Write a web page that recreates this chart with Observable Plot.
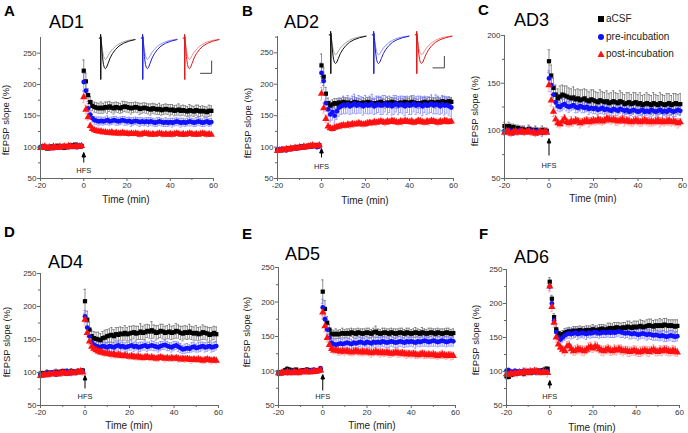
<!DOCTYPE html>
<html><head><meta charset="utf-8">
<script src="https://cdn.jsdelivr.net/npm/d3@7"></script>
<script src="https://cdn.jsdelivr.net/npm/@observablehq/plot@0.6"></script>
<style>
body{margin:0;background:#fff;}
#fig{position:relative;width:688px;height:433px;font-family:"Liberation Sans",Arial,sans-serif;overflow:hidden;background:#fff;}
#fig > svg{position:absolute;left:0;top:0;}
.t{position:absolute;white-space:nowrap;color:#000;line-height:1;}
.letter{font-weight:bold;font-size:15px;}
.title{font-size:18px;}
.xl{font-size:10px;transform:translate(-50%,-50%);color:#222;}
.yl{font-size:9.5px;transform:translate(-50%,-50%) rotate(-90deg);color:#222;}
.leg{font-size:10px;color:#222;transform:translateY(-50%);}
.inset{position:absolute;}
.inset svg{display:block;}
</style>
</head><body><div id="fig"></div>
<script>
// ---- sampling times (min): baseline -20..-1, post-HFS 0..59
const times = d3.range(-20, 60);
const seriesNames = ["aCSF", "pre-incubation", "post-incubation"];
const xTicks = [-20, 0, 20, 40, 60];
const xMinor = [-10, 10, 30, 50];

// ---- AD1
const ad1_aCSF = [99,101,100,98,100,101,99,100,102,100,
101,99,100,102,103,101,104,102,101,102,
222,205,183,172,166,164,163,162,163,162,
164,163,165,163,162,164,163,162,164,165,
164,163,162,163,164,163,161,162,163,162,
161,160,162,161,160,161,159,160,161,160,
159,160,158,159,160,158,159,158,157,159,
158,157,159,158,157,158,157,156,158,158];
const ad1_pre = [100,99,101,100,98,100,101,99,100,101,
100,102,101,100,103,101,102,100,103,101,
204,190,162,152,146,143,142,141,142,141,
142,143,141,142,143,142,141,142,143,142,
141,142,140,141,142,141,140,141,140,141,
140,141,140,139,140,141,140,139,140,139,
140,139,140,141,140,139,140,139,140,141,
140,139,140,141,140,139,140,141,139,140];
const ad1_post = [99,100,101,99,100,98,101,100,99,101,
100,101,100,102,101,100,101,102,101,102,
180,160,148,134,129,127,126,125,125,124,
124,123,123,124,122,123,122,122,123,122,
122,121,122,121,122,121,120,121,122,121,
121,120,121,120,121,122,121,120,121,120,
121,120,121,122,121,120,121,120,121,122,
121,120,121,120,121,122,121,120,121,120];
const ad1_aCSF_sem = [3,3,2,3,3,2,3,3,3,2,
3,3,2,3,3,3,2,3,3,3,
17,13,10,9,8,8,8,8,9,8,
8,9,8,8,9,8,8,8,9,8,
8,8,9,8,8,8,9,8,8,8,
8,9,8,8,8,9,8,8,8,8,
9,8,8,8,9,8,8,8,8,9,
8,8,8,9,8,8,8,8,9,8];
const ad1_pre_sem = [3,2,3,3,2,3,3,2,3,3,
2,3,3,2,3,3,2,3,3,2,
14,11,8,7,6,6,6,7,6,6,
6,7,6,6,6,7,6,6,6,7,
6,6,7,6,6,6,7,6,6,6,
7,6,6,6,7,6,6,6,7,6,
6,7,6,6,6,7,6,6,6,7,
6,6,7,6,6,6,7,6,6,6];
const ad1_post_sem = [2,2,3,2,2,3,2,2,3,2,
2,3,2,2,3,2,2,3,2,2,
9,7,5,4,3,3,3,3,4,3,
3,3,4,3,3,3,3,4,3,3,
3,4,3,3,3,3,4,3,3,3,
3,3,4,3,3,3,3,4,3,3,
3,4,3,3,3,3,4,3,3,3,
3,3,4,3,3,3,3,4,3,3];

// ---- AD2
const ad2_aCSF = [95,96,95,97,96,98,97,99,98,100,
99,101,100,100,102,101,103,102,101,103,
230,212,185,170,166,168,170,169,171,170,
172,170,171,169,170,172,171,170,169,171,
170,172,171,170,169,170,171,172,170,169,
171,170,172,171,170,169,171,170,172,171,
170,172,171,170,169,170,171,172,170,171,
172,171,170,172,171,173,172,171,173,172];
const ad2_pre = [96,95,97,96,95,97,98,97,99,98,
100,99,101,100,101,102,101,103,100,101,
218,205,170,160,152,156,150,157,163,165,
167,166,168,165,167,169,166,168,167,165,
168,166,167,169,165,167,168,166,167,169,
166,168,165,167,169,166,168,167,165,168,
166,167,169,166,168,167,165,168,166,167,
169,166,168,167,165,168,166,167,165,163];
const ad2_post = [94,95,96,95,97,96,98,97,99,98,
100,99,101,100,101,102,103,101,102,103,
185,162,145,133,130,129,131,132,133,134,
135,134,136,135,137,136,137,138,137,136,
137,138,139,138,140,139,140,141,140,139,
141,140,142,141,140,139,141,140,142,141,
140,141,139,140,142,141,140,139,141,140,
142,141,140,139,141,140,142,141,140,141];
const ad2_aCSF_sem = [3,2,3,3,2,3,3,2,3,3,
2,3,3,2,3,3,2,3,3,2,
18,14,10,8,7,7,7,8,7,7,
7,8,7,7,7,8,7,7,7,8,
7,7,8,7,7,7,8,7,7,7,
8,7,7,7,8,7,7,7,8,7,
7,8,7,7,7,8,7,7,7,8,
7,7,8,7,7,7,8,7,7,7];
const ad2_pre_sem = [3,3,2,3,3,2,3,3,2,3,
3,2,3,3,2,3,3,2,3,3,
16,14,13,12,12,13,12,13,14,13,
14,13,14,13,14,15,13,14,13,14,
14,13,14,15,13,14,13,14,15,13,
14,13,14,15,13,14,13,14,15,13,
14,15,13,14,13,14,15,13,14,13,
14,13,15,14,13,14,15,13,14,14];
const ad2_post_sem = [3,2,3,2,3,2,3,2,3,2,
3,2,3,2,3,2,3,2,3,2,
10,8,6,5,4,4,4,4,4,5,
4,4,4,5,4,4,4,5,4,4,
4,5,4,4,4,5,4,4,4,5,
4,4,4,5,4,4,4,5,4,4,
4,5,4,4,4,5,4,4,4,5,
4,4,4,5,4,4,4,5,4,4];

// ---- AD3
const ad3_aCSF = [105,104,105,103,104,102,103,101,102,101,
100,102,101,100,101,100,99,101,100,100,
173,158,145,138,134,136,138,137,136,135,
134,135,133,134,132,133,134,132,131,133,
132,131,130,132,131,130,131,129,130,131,
130,129,131,130,128,129,130,128,129,130,
128,129,127,128,129,128,127,129,128,127,
129,128,127,128,129,127,128,129,128,128];
const ad3_pre = [100,99,101,100,98,100,99,101,100,99,
100,101,100,99,100,99,100,98,99,99,
155,148,138,130,126,125,127,128,126,125,
126,127,125,124,126,125,124,125,123,124,
123,124,122,123,124,122,123,122,121,123,
122,121,123,122,121,122,120,121,122,121,
120,121,122,120,121,120,122,121,120,121,
122,120,121,120,122,121,120,121,122,121];
const ad3_post = [98,100,99,97,99,100,98,99,100,98,
99,100,98,99,97,98,99,98,99,98,
148,132,120,112,108,107,110,113,109,108,
110,109,111,110,108,109,110,111,109,110,
111,110,112,111,110,111,113,112,111,112,
111,110,111,112,110,111,110,109,110,111,
110,109,110,111,110,109,110,109,110,111,
109,110,109,110,111,109,110,109,108,109];
const ad3_aCSF_sem = [4,3,4,4,3,4,3,4,3,4,
3,4,3,3,4,3,3,4,3,3,
12,11,10,10,10,11,10,10,11,10,
10,11,10,10,11,10,10,11,10,10,
11,10,10,11,10,10,11,10,10,11,
10,10,11,10,10,11,10,10,11,10,
10,11,10,10,11,10,10,11,10,10,
11,10,10,11,10,10,11,10,10,11];
const ad3_pre_sem = [3,3,4,3,3,4,3,3,4,3,
3,4,3,3,4,3,3,4,3,3,
8,7,6,6,5,5,6,5,5,6,
5,5,6,5,5,6,5,5,6,5,
5,6,5,5,6,5,5,6,5,5,
6,5,5,6,5,5,6,5,5,6,
5,5,6,5,5,6,5,5,6,5,
5,6,5,5,6,5,5,6,5,5];
const ad3_post_sem = [3,2,3,3,2,3,3,2,3,3,
2,3,3,2,3,3,2,3,3,2,
7,6,5,4,4,4,5,4,4,4,
5,4,4,4,5,4,4,4,5,4,
4,4,5,4,4,4,5,4,4,4,
5,4,4,4,5,4,4,4,5,4,
4,4,5,4,4,4,5,4,4,4,
5,4,4,4,5,4,4,4,5,4];

// ---- AD4
const ad4_aCSF = [98,99,97,100,99,98,100,101,99,100,
102,101,99,100,102,101,100,102,101,103,
208,180,165,155,152,151,150,149,152,153,
155,156,157,155,158,157,159,158,160,158,
159,160,161,159,160,162,160,161,163,162,
164,162,160,161,163,162,160,161,162,160,
161,163,162,160,159,161,160,162,160,159,
160,158,159,161,160,159,157,158,160,158];
const ad4_pre = [96,98,97,99,98,100,99,97,100,101,
99,100,102,100,99,101,100,102,101,102,
185,168,155,146,142,140,139,138,140,139,
138,140,139,138,140,141,139,140,138,139,
140,141,139,140,138,139,140,141,139,140,
141,140,139,138,140,141,142,140,139,138,
140,141,139,137,135,136,137,136,138,139,
137,138,139,140,138,139,140,138,139,140];
const ad4_post = [95,96,97,96,98,97,99,98,97,99,
100,99,98,100,101,99,100,101,102,100,
180,160,147,139,136,134,132,131,130,129,
129,128,127,128,126,127,126,125,126,125,
124,125,124,123,124,123,122,123,124,122,
123,122,121,122,123,122,121,122,121,122,
121,122,121,120,121,120,121,120,119,120,
119,120,119,118,119,120,119,118,119,118];
const ad4_aCSF_sem = [4,3,4,4,3,4,3,4,3,4,
3,4,3,3,4,3,3,4,3,3,
18,13,11,10,10,10,11,10,10,11,
10,10,11,10,10,11,10,10,11,10,
11,10,10,11,10,12,10,11,10,10,
13,10,11,10,10,11,10,10,11,10,
10,11,10,10,11,10,10,11,10,10,
11,10,10,11,10,10,11,10,10,11];
const ad4_pre_sem = [4,3,4,3,4,3,4,3,4,3,
4,3,4,3,4,3,4,3,4,3,
9,8,7,7,7,6,7,7,6,7,
7,6,7,7,6,7,7,6,7,7,
6,7,7,6,7,7,6,7,7,6,
7,7,6,7,7,6,7,7,6,7,
7,6,7,7,6,7,7,6,7,7,
6,7,7,6,7,7,6,7,7,6];
const ad4_post_sem = [3,4,3,3,4,3,3,4,3,3,
4,3,3,4,3,3,4,3,3,4,
8,6,5,5,4,4,5,4,4,5,
4,4,5,4,4,5,4,4,5,4,
4,5,4,4,5,4,4,5,4,4,
5,4,4,5,4,4,5,4,4,5,
4,4,5,4,4,5,4,4,5,4,
4,5,4,4,5,4,4,5,4,4];

// ---- AD5
const ad5_aCSF = [98,97,99,101,103,102,100,101,102,99,
100,101,100,102,101,100,99,101,100,101,
215,190,170,160,154,153,154,153,154,155,
154,155,154,156,155,154,156,155,154,155,
156,155,154,156,157,155,154,155,156,155,
154,156,155,154,155,156,155,154,156,155,
154,155,156,155,154,156,155,154,155,156,
155,154,156,155,154,155,156,155,154,155];
const ad5_pre = [96,97,98,99,97,98,99,100,98,99,
100,99,101,100,99,101,102,100,101,104,
192,175,160,148,141,139,138,139,140,139,
140,141,140,139,141,140,141,142,141,140,
142,141,140,142,141,142,141,143,142,141,
142,143,142,141,142,143,142,141,143,142,
143,142,141,143,142,143,144,143,142,143,
144,143,142,143,144,143,142,143,144,143];
const ad5_post = [97,96,98,97,99,98,97,99,98,97,
99,98,99,100,98,99,100,99,100,101,
185,165,148,138,132,130,130,129,128,129,
128,129,128,127,128,129,128,127,128,127,
128,127,126,127,128,127,126,127,126,127,
126,125,126,127,126,125,126,125,124,125,
124,125,124,123,124,125,124,123,124,123,
124,123,122,123,124,123,122,123,122,122];
const ad5_aCSF_sem = [3,3,2,3,3,2,3,3,2,3,
3,2,3,3,2,3,3,2,3,3,
17,12,9,7,6,6,7,6,6,7,
6,6,7,6,6,7,6,6,7,6,
6,7,6,6,8,6,6,7,6,6,
7,6,6,7,6,6,7,6,6,7,
6,6,7,6,6,7,6,6,7,6,
6,7,6,6,7,6,6,7,6,6];
const ad5_pre_sem = [3,2,3,3,2,3,3,2,3,3,
2,3,3,2,3,3,2,3,3,2,
12,10,8,7,7,7,7,8,7,7,
8,7,7,7,8,7,7,7,8,7,
7,7,8,7,7,7,8,7,7,7,
8,7,7,7,8,7,7,7,8,7,
7,7,8,7,7,7,8,7,7,7,
8,7,7,7,8,7,7,7,8,7];
const ad5_post_sem = [3,3,3,2,3,3,3,2,3,3,
3,2,3,3,3,2,3,3,3,2,
9,8,6,5,5,5,5,6,5,5,
6,5,5,5,6,5,5,5,6,5,
5,5,6,5,5,5,6,5,5,5,
6,5,5,5,6,5,5,5,6,5,
5,5,6,5,5,5,6,5,5,5,
6,5,5,5,6,5,5,5,6,5];

// ---- AD6
const ad6_aCSF = [93,92,95,96,98,97,99,98,97,99,
100,98,99,100,99,101,100,102,103,104,
232,207,180,162,156,153,155,157,158,159,
158,160,159,160,161,159,160,161,160,161,
162,161,160,162,163,162,161,163,164,163,
164,165,164,163,165,164,166,165,164,166,
165,166,167,165,166,167,168,167,166,168,
167,168,167,169,168,167,168,167,166,167];
const ad6_pre = [101,102,100,99,101,100,99,100,101,100,
99,100,101,99,100,101,100,99,100,100,
225,200,175,158,150,147,150,153,155,156,
155,156,157,155,156,157,156,155,157,156,
157,158,157,156,157,158,157,158,157,158,
157,158,159,158,157,156,157,156,155,156,
155,154,155,156,155,154,155,154,153,154,
153,152,153,152,151,152,153,152,151,152];
const ad6_post = [96,95,97,96,98,97,99,98,100,99,
98,100,99,101,100,99,98,100,99,98,
225,195,172,150,140,135,132,130,137,138,
133,130,131,133,132,131,130,132,135,136,
134,137,136,133,131,130,132,133,131,130,
132,131,133,132,130,131,130,129,130,131,
130,128,129,130,131,130,129,131,132,130,
129,131,130,132,131,130,129,131,130,128];
const ad6_aCSF_sem = [4,3,4,3,4,3,4,3,4,3,
4,3,4,3,4,3,4,3,4,3,
6,5,5,5,5,6,5,6,6,6,
6,6,7,6,6,7,6,6,7,6,
7,6,7,7,6,7,7,8,7,7,
8,7,8,8,7,8,8,9,8,8,
9,8,9,10,8,9,9,10,9,8,
9,10,9,9,10,9,8,9,10,9];
const ad6_pre_sem = [3,3,2,3,3,2,3,3,2,3,
3,2,3,3,2,3,3,2,3,3,
6,6,6,6,7,7,7,7,7,7,
7,7,7,8,7,7,7,8,7,7,
7,8,7,7,7,8,7,7,7,8,
7,7,7,8,7,7,7,8,7,7,
7,8,7,7,7,8,7,7,7,8,
7,7,7,8,7,7,7,8,7,7];
const ad6_post_sem = [4,4,5,4,4,5,4,4,5,6,
4,5,4,4,5,4,4,5,4,6,
8,7,7,7,6,6,6,7,7,7,
7,6,7,7,6,7,7,6,7,7,
6,7,7,6,7,7,6,7,7,6,
7,7,6,7,7,6,7,7,6,7,
7,6,7,7,6,7,7,6,7,7,
6,7,7,6,7,7,6,7,7,6];

// ---- example fEPSP traces (inset), ms and mV
const traceMs     = [0, 0.5, 0.55, 0.6, 0.65, 0.9, 1.3, 1.7, 2.1, 2.5, 3.0, 3.6, 4.4, 5.4, 6.6, 8.0, 9.8, 12.0, 14.5];
const traceBefore = [0, 0, 0.12, -1.35, 0.05, -0.15, -0.4, -0.58, -0.66, -0.7, -0.66, -0.57, -0.46, -0.36, -0.27, -0.19, -0.12, -0.07, -0.04];
const traceAfter  = [0, 0, 0.12, -1.35, 0.05, -0.2, -0.6, -0.86, -0.97, -1.0, -0.95, -0.82, -0.65, -0.5, -0.37, -0.26, -0.17, -0.1, -0.05];
const scaleBarMs  = [7, 11.5, 11.5];
const scaleBarMv  = [-1.15, -1.15, -0.75];

// ---- styles
const dotColors = ["#000000", "#1010ff", "#ff1010"];
const errColors = ["#6a6a6a", "#7a7aff", "#ff8484"];
const symbols = ["square", "circle", "triangle"];
const traceDark = ["#111111", "#2020d8", "#e01818"];
const traceLight = ["#a0a0a0", "#9090f0", "#f09090"];

const panels = [
  {letter:"A", title:"AD1", series:[ad1_aCSF, ad1_pre, ad1_post], sems:[ad1_aCSF_sem, ad1_pre_sem, ad1_post_sem],
   yMax:275, yTicks:[50,100,150,200,250], yMinor:[75,125,175,225], l:40, r:213, t:37, b:178,
   hfs:{tail:16, len:10, text:6}, letterPos:[4,3], titlePos:[49,13], xl:[126,200], yl:[6,120]},
  {letter:"B", title:"AD2", series:[ad2_aCSF, ad2_pre, ad2_post], sems:[ad2_aCSF_sem, ad2_pre_sem, ad2_post_sem],
   yMax:276, yTicks:[50,100,150,200,250], yMinor:[75,125,175,225,275], l:277, r:453, t:36, b:178,
   hfs:{tail:21, len:9, text:10}, letterPos:[242,3], titlePos:[284,13], xl:[365,201], yl:[248,123]},
  {letter:"C", title:"AD3", series:[ad3_aCSF, ad3_pre, ad3_post], sems:[ad3_aCSF_sem, ad3_pre_sem, ad3_post_sem],
   yMax:200, yTicks:[50,100,150,200], yMinor:[75,125,175], l:504, r:682, t:35, b:178,
   hfs:{tail:23, len:17, text:11}, letterPos:[478,2], titlePos:[514,11], xl:[593,199], yl:[475,111]},
  {letter:"D", title:"AD4", series:[ad4_aCSF, ad4_pre, ad4_post], sems:[ad4_aCSF_sem, ad4_pre_sem, ad4_post_sem],
   yMax:250, yTicks:[50,100,150,200,250], yMinor:[75,125,175,225], l:40, r:218, t:273, b:405,
   hfs:{tail:17, len:13, text:7}, letterPos:[4,224], titlePos:[48,253], xl:[129,426], yl:[7,342]},
  {letter:"E", title:"AD5", series:[ad5_aCSF, ad5_pre, ad5_post], sems:[ad5_aCSF_sem, ad5_pre_sem, ad5_post_sem],
   yMax:250, yTicks:[50,100,150,200,250], yMinor:[75,125,175,225], l:278, r:455, t:267, b:405,
   hfs:{tail:15, len:16, text:7}, letterPos:[242,226], titlePos:[285,245], xl:[372,426], yl:[247,332]},
  {letter:"F", title:"AD6", series:[ad6_aCSF, ad6_pre, ad6_post], sems:[ad6_aCSF_sem, ad6_pre_sem, ad6_post_sem],
   yMax:250, yTicks:[50,100,150,200,250], yMinor:[75,125,175,225], l:506, r:679, t:269, b:405,
   hfs:{tail:17, len:8, text:7}, letterPos:[479,226], titlePos:[514,248], xl:[592,428], yl:[476,340]}
];

const W = 688, H = 433;
const fig = document.getElementById("fig");
const font = "'Liberation Sans', Arial, sans-serif";
const plainFmt = d => String(d);

function arrowSymbol(len) {
  return {draw(ctx) {
    ctx.moveTo(0, 0); ctx.lineTo(0, -len + 4);
    ctx.moveTo(0, -len); ctx.lineTo(-1.8, -len + 4.5); ctx.lineTo(1.8, -len + 4.5); ctx.closePath();
  }};
}

function addText(cls, txt, x, y) {
  const d = document.createElement("div");
  d.className = "t " + cls; d.textContent = txt;
  d.style.left = x + "px"; d.style.top = y + "px";
  fig.appendChild(d);
}

for (const p of panels) {
  const rows = [];
  p.series.forEach((vals, k) => vals.forEach((v, i) => rows.push({t: times[i], v, e: p.sems[k][i], k})));
  const marks = [];
  for (let k = 0; k < 3; k++) {
    const r = rows.filter(d => d.k === k);
    marks.push(Plot.ruleX(r, {x: "t", y1: d => d.v - d.e, y2: d => d.v + d.e, stroke: errColors[k], strokeWidth: 0.75}));
    marks.push(Plot.ruleY(r, {y: d => d.v + d.e, x1: d => d.t - 0.5, x2: d => d.t + 0.5, stroke: errColors[k], strokeWidth: 0.75}));
    marks.push(Plot.ruleY(r, {y: d => d.v - d.e, x1: d => d.t - 0.5, x2: d => d.t + 0.5, stroke: errColors[k], strokeWidth: 0.75}));
  }
  for (let k = 0; k < 3; k++) {
    const r = rows.filter(d => d.k === k);
    marks.push(Plot.dot(r, {x: "t", y: "v", symbol: symbols[k], fill: dotColors[k], r: k === 2 ? 2.7 : 2.4}));
  }
  const svg = Plot.plot({
    width: W, height: H,
    marginLeft: p.l, marginRight: W - p.r, marginTop: p.t, marginBottom: H - p.b,
    x: {domain: [-20, 60]},
    y: {domain: [50, p.yMax]},
    style: {background: "transparent", fontFamily: font, fontSize: "8px", color: "#333", overflow: "visible"},
    marks: [
      ...marks,
      Plot.ruleX([-20], {stroke: "#666"}),
      Plot.ruleY([50], {stroke: "#666"}),
      Plot.axisY({ticks: p.yTicks, tickSize: 3, tickPadding: 1, tickFormat: plainFmt, label: null, stroke: "#666"}),
      Plot.axisY({ticks: p.yMinor, tickSize: 2, tickFormat: () => "", label: null, stroke: "#666"}),
      Plot.axisX({ticks: xTicks, tickSize: 3, tickPadding: 1, tickFormat: plainFmt, label: null, stroke: "#666"}),
      Plot.axisX({ticks: xMinor, tickSize: 2, tickFormat: () => "", label: null, stroke: "#666"}),
      Plot.dot([0], {x: d => d, frameAnchor: "bottom", dy: -p.hfs.tail, symbol: arrowSymbol(p.hfs.len), stroke: "#000", fill: "#000", strokeWidth: 1}),
      Plot.text(["HFS"], {x: () => 0, frameAnchor: "bottom", dy: -p.hfs.text, text: d => d, fontSize: 7.5, fill: "#222"})
    ]
  });
  fig.appendChild(svg);
  addText("letter", p.letter, p.letterPos[0], p.letterPos[1]);
  addText("title", p.title, p.titlePos[0], p.titlePos[1]);
  addText("xl", "Time (min)", p.xl[0], p.xl[1]);
  addText("yl", "fEPSP slope (%)", p.yl[0], p.yl[1]);
}

// ---- legend (panel C)
const legY = [19, 37, 54];
const legSvgs = [
  '<rect x="1" y="1" width="6" height="6" fill="#000"/>',
  '<circle cx="4" cy="4" r="3" fill="#1010ff"/>',
  '<path d="M4,0.5 L7.5,7 L0.5,7 Z" fill="#ff1010"/>'
];
seriesNames.forEach((n, k) => {
  const s = document.createElement("div");
  s.className = "inset";
  s.style.left = "597px"; s.style.top = (legY[k] - 4) + "px";
  s.innerHTML = '<svg width="8" height="8">' + legSvgs[k] + '</svg>';
  fig.appendChild(s);
  addText("leg", n, 606, legY[k]);
});

// ---- inset traces (panels A and B)
function insetPlot(left, top, w, h) {
  const rows = [];
  seriesNames.forEach((c, k) => {
    traceMs.forEach((ms, i) => {
      rows.push({cond: c, which: "before", ms, mV: traceBefore[i], col: traceLight[k]});
      rows.push({cond: c, which: "after", ms, mV: traceAfter[i], col: traceDark[k]});
    });
  });
  const bar = scaleBarMs.map((ms, i) => ({cond: seriesNames[2], ms, mV: scaleBarMv[i]}));
  const pl = Plot.plot({
    width: w, height: h, margin: 0, marginTop: 0, marginBottom: 0, marginLeft: 0, marginRight: 0,
    fx: {domain: seriesNames, padding: 0.06, axis: null},
    x: {domain: [-0.3, 15.5], axis: null},
    y: {domain: [-1.45, 0.15], axis: null},
    color: {type: "identity"},
    style: {background: "transparent", overflow: "visible"},
    marks: [
      Plot.line(rows.filter(d => d.which === "before"), {fx: "cond", x: "ms", y: "mV", z: "cond", stroke: "col", strokeWidth: 1}),
      Plot.line(rows.filter(d => d.which === "after"), {fx: "cond", x: "ms", y: "mV", z: "cond", stroke: "col", strokeWidth: 1}),
      Plot.line(bar, {fx: "cond", x: "ms", y: "mV", stroke: "#444", strokeWidth: 1})
    ]
  });
  const d = document.createElement("div");
  d.className = "inset";
  d.style.left = left + "px"; d.style.top = top + "px";
  d.appendChild(pl);
  fig.appendChild(d);
}
insetPlot(97, 33, 126, 49);
insetPlot(327, 30, 128, 46);
</script>
</body></html>
